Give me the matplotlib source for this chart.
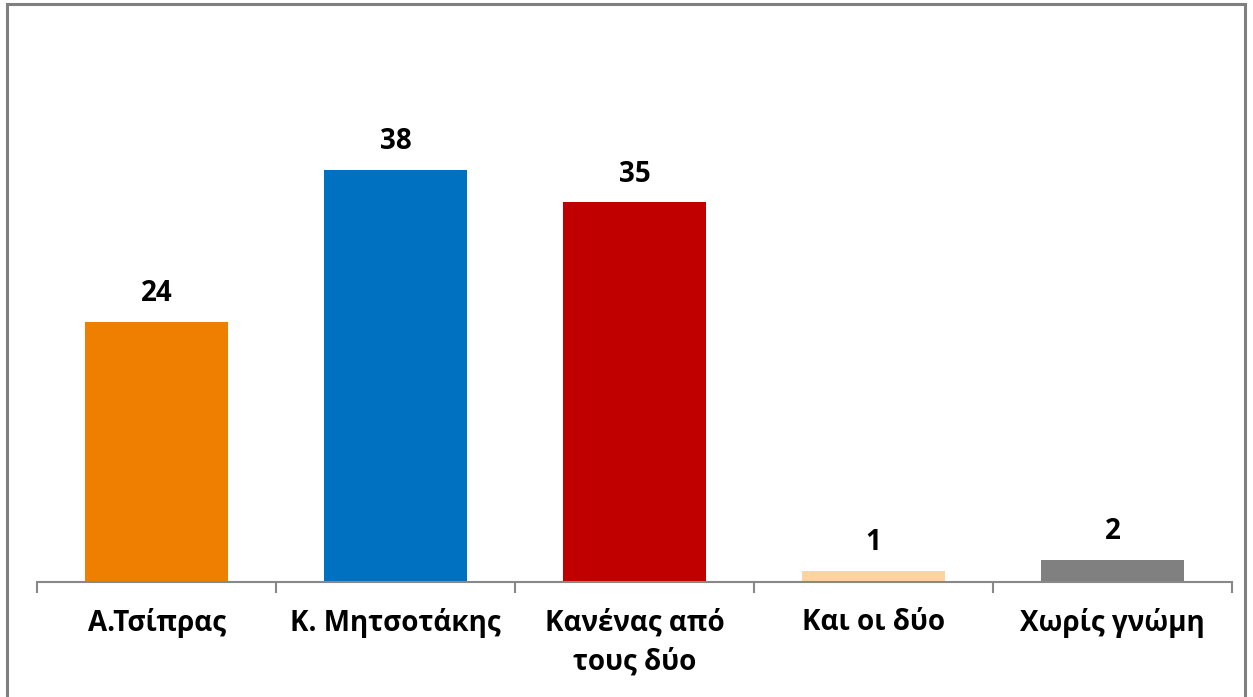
import matplotlib
matplotlib.use("Agg")
import matplotlib.pyplot as plt
from matplotlib.patches import Rectangle

categories = ["Α.Τσίπρας", "Κ. Μητσοτάκης", "Κανένας από\nτους δύο", "Και οι δύο", "Χωρίς γνώμη"]
values = [24, 38, 35, 1, 2]
colors = ["#EE7F00", "#0070C0", "#C00000", "#FFD39F", "#808080"]

plt.rcParams["font.family"] = ["Open Sans", "DejaVu Sans"]

W, H = 1253, 697
fig = plt.figure(figsize=(W / 100, H / 100), dpi=100)
ax = fig.add_axes([37 / W, (H - 582) / H, (1232 - 37) / W, (582 - 94) / H])

x = range(len(categories))
bars = ax.bar(x, values, width=0.6, color=colors, zorder=2)
ax.set_xlim(-0.5, len(categories) - 0.5)
ax.set_ylim(0, 45)

for bar, val in zip(bars, values):
    ax.annotate(f"{val}", (bar.get_x() + bar.get_width() / 2, bar.get_height()),
                xytext=(0, 10), textcoords="offset points", ha="center", va="bottom",
                fontsize=20, fontweight="bold")

for s in ["top", "right", "left"]:
    ax.spines[s].set_visible(False)
ax.spines["bottom"].set_color("#888888")
ax.spines["bottom"].set_linewidth(1.5)
ax.set_yticks([])

# category labels between boundary ticks
ax.set_xticks([i - 0.5 for i in range(len(categories) + 1)], minor=False)
ax.set_xticklabels([])
ax.tick_params(axis="x", which="major", length=8, width=1.5, color="#888888")
ax.set_xticks(list(x), minor=True)
ax.set_xticklabels(categories, minor=True, fontsize=20, fontweight="bold",
                   linespacing=1.45, va="top")
ax.tick_params(axis="x", which="minor", length=0, pad=19)

fig.add_artist(Rectangle((7 / W, -0.02), (1245 - 7) / W, 1.02 - 4 / H,
                         transform=fig.transFigure, fill=False,
                         edgecolor="#808080", linewidth=2.2))

fig.savefig("out.png", dpi=100)
